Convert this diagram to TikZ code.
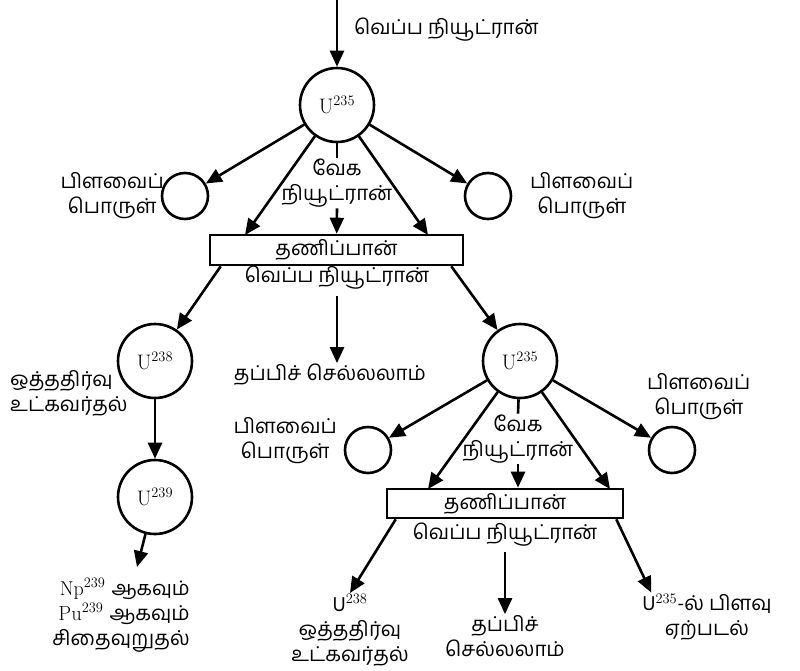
\documentclass[tikz,border=0pt]{standalone}
\usepackage{fontspec}
\newfontfamily\tamil[Script=Tamil]{Hind Madurai}
\usetikzlibrary{arrows.meta}
\tikzstyle{arrow} = [line width=2.6pt,-{Triangle[length=16pt,width=14pt]}]
\tikzstyle{link} = [line width=2.6pt]
\tikzstyle{atom} = [circle, draw, line width=2.6pt, minimum size=74pt, inner sep=0pt, font=\fontsize{21}{24}\selectfont]
\tikzstyle{frag} = [circle, draw, line width=2.6pt, minimum size=46pt]
\tikzstyle{moderator} = [rectangle, draw, line width=2.6pt, inner sep=0pt]
\tikzstyle{label} = [align=center, inner sep=1pt, font=\tamil\fontsize{20.5}{25}\selectfont]

\begin{document}
\begin{tikzpicture}[x=1pt,y=-1pt]
                \useasboundingbox (0,0) rectangle (800,670);

                % first fission
                \coordinate (start) at (337,0);
                \node (u1) [atom] at (337,105) {U$^{235}$};
                \node (in1) [label, anchor=west] at (353,30) {வெப்ப நியூட்ரான்};
                \node (fis1l) [frag] at (185,196) {};
                \node (fis1r) [frag] at (488,196) {};
                \node (fl1) [label, anchor=east] at (165,196) {பிளவைப்\\பொருள்};
                \node (fr1) [label, anchor=west] at (529,196) {பிளவைப்\\பொருள்};
                \node (fast1) [label] at (337,183) {வேக\\நியூட்ரான்};
                \node (box1) [moderator, minimum width=253pt, minimum height=30pt] at (336.5,250) {};
                \node [label] at (box1) {தணிப்பான்};
                \node (therm1) [label] at (337,278) {வெப்ப நியூட்ரான்};
                \coordinate (b1l) at (245,235);
                \coordinate (b1r) at (428,235);

                \draw [arrow] (start) -- (u1);
                \draw [arrow] (u1) -- (fis1l);
                \draw [arrow] (u1) -- (fis1r);
                \draw [arrow] (u1) -- (b1l);
                \draw [arrow] (u1) -- (b1r);
                \draw [link] (u1) -- (fast1.north);
                \draw [arrow] (fast1.south) -- (box1);

                % after the first moderator
                \node (u238) [atom] at (155,361) {U$^{238}$};
                \node (res1) [label, align=left, anchor=west] at (9,393) {ஒத்ததிர்வு\\உட்கவர்தல்};
                \node (esc1) [label] at (330,375) {தப்பிச் செல்லலாம்};
                \node (u2) [atom] at (520,361) {U$^{235}$};

                \draw [arrow] ([xshift=12pt]box1.south west) -- (u238);
                \draw [arrow] ([yshift=-5pt]therm1.south) -- (therm1.south |- esc1.north);
                \draw [arrow] ([xshift=-13pt]box1.south east) -- (u2);

                % resonance capture chain
                \node (u239) [atom] at (155,497) {U$^{239}$};
                \node (decay) [label, align=right, anchor=north east] at (191,577) {\fontsize{20}{25}\selectfont\rmfamily Np$^{239}$ \tamil ஆகவும்\\\rmfamily Pu$^{239}$ \tamil ஆகவும்\\சிதைவுறுதல்};
                \coordinate (decaytip) at (137,567);

                \draw [arrow] (u238) -- (u239);
                \draw [arrow] (u239) -- (decaytip);

                % second fission
                \node (fis2l) [frag] at (368,450) {};
                \node (fis2r) [frag] at (672,450) {};
                \node (fl2) [label, anchor=east] at (338,441) {பிளவைப்\\பொருள்};
                \node (fr2) [label, anchor=west] at (646,397) {பிளவைப்\\பொருள்};
                \node (fast2) [label] at (518,439) {வேக\\நியூட்ரான்};
                \node (box2) [moderator, minimum width=236pt, minimum height=29pt] at (505,503.5) {};
                \node [label] at (box2) {தணிப்பான்};
                \node (therm2) [label] at (505,535) {வெப்ப நியூட்ரான்};
                \coordinate (b2l) at (428,489);
                \coordinate (b2r) at (610,489);

                \draw [arrow] (u2) -- (fis2l);
                \draw [arrow] (u2) -- (fis2r);
                \draw [arrow] (u2) -- (b2l);
                \draw [arrow] (u2) -- (b2r);
                \draw [link] (u2) -- (fast2.north);
                \draw [arrow] (fast2.south) -- (fast2.south |- box2.north);

                % outcomes
                \node (res2) [label] at (350,630) {U$^{238}$\\ஒத்ததிர்வு\\உட்கவர்தல்};
                \node (esc2) [label] at (505,636) {தப்பிச்\\செல்லலாம்};
                \node (fis3) [label] at (707,617) {U$^{235}$-ல் பிளவு\\ஏற்படல்};

                \draw [arrow] ([xshift=10pt]box2.south west) -- (res2.north);
                \draw [arrow] ([yshift=-4pt]therm2.south) -- (esc2);
                \draw [arrow] ([xshift=-8pt]box2.south east) -- ([xshift=10pt]fis3.north west);
            \end{tikzpicture}
\end{document}
